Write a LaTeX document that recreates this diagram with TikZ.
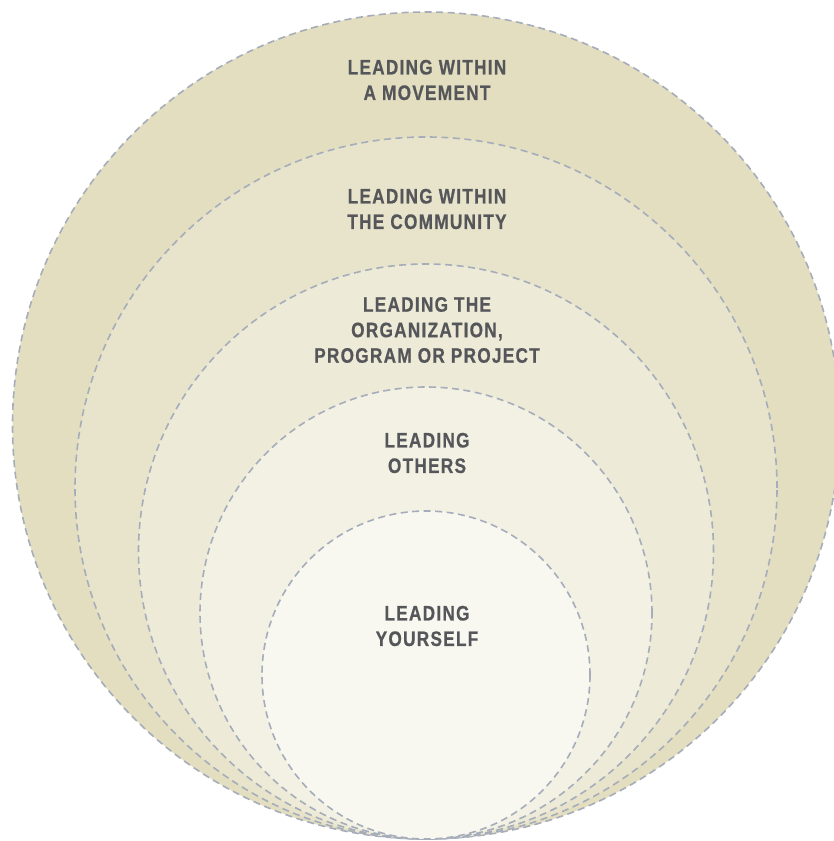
\documentclass[tikz,border=0pt]{standalone}
\usepackage{fontspec}
\setmainfont{Liberation Sans}[FakeStretch=0.82, LetterSpace=6, FakeBold=0.6]
\definecolor{c1}{HTML}{E3DEC0}
\definecolor{c2}{HTML}{E8E4CB}
\definecolor{c3}{HTML}{EDEAD7}
\definecolor{c4}{HTML}{F3F1E4}
\definecolor{c5}{HTML}{F8F7F0}
\definecolor{dashc}{HTML}{A6ADBA}
\definecolor{txt}{HTML}{55565A}
\tikzset{
  ring/.style={draw=dashc, line width=1.6pt, dash pattern=on 7pt off 4.5pt},
  lbl/.style={text=txt, font=\fontsize{21}{25.5}\selectfont\bfseries, align=center, inner sep=0pt}
}
\begin{document}
\begin{tikzpicture}[x=1pt,y=1pt]
\useasboundingbox (0,0) rectangle (833,841);
\fill[white] (0,0) rectangle (833,841);
\draw[ring, fill=c1] (426,415.5) circle (413.5);
\draw[ring, fill=c2] (426,353) circle (351);
\draw[ring, fill=c3] (426,289.5) circle (287.5);
\draw[ring, fill=c4] (426,228) circle (226);
\draw[ring, fill=c5] (426,166) circle (164);
\node[lbl] (t1) at (427,761) {LEADING WITHIN\\A MOVEMENT};
\node[lbl] (t2) at (427,632) {LEADING WITHIN\\THE COMMUNITY};
\node[lbl] (t3) at (427,511) {LEADING THE\\ORGANIZATION,\\PROGRAM OR PROJECT};
\node[lbl] (t4) at (427,388) {LEADING\\OTHERS};
\node[lbl] (t5) at (427,215) {LEADING\\YOURSELF};
\end{tikzpicture}
\end{document}
